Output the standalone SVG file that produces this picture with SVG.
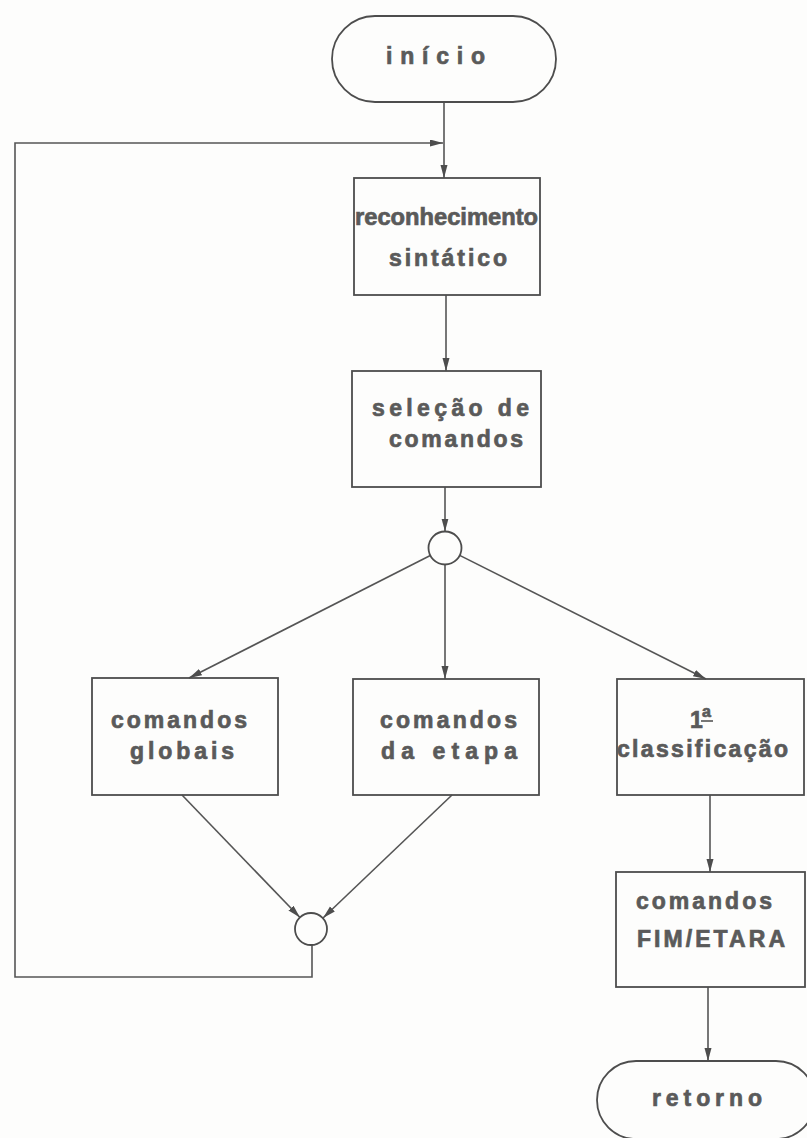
<svg xmlns="http://www.w3.org/2000/svg" width="807" height="1138" viewBox="0 0 807 1138">
  <style>
    .shape { fill: none; stroke: #4d4d4d; stroke-width: 1.8; }
    .wire { fill: none; stroke: #555; stroke-width: 1.6; }
    .lbl { font-family: "Liberation Sans", Arial, sans-serif; font-weight: bold; font-size: 23px; fill: #5a5a5a; stroke: #5a5a5a; stroke-width: 0.7; }
  </style>
  <defs>
    <marker id="arrow" markerUnits="userSpaceOnUse" markerWidth="14" markerHeight="8" refX="13" refY="3.5" orient="auto">
      <path d="M0,0 L13,3.5 L0,7 z" fill="#4d4d4d"/>
    </marker>
  </defs>
  <rect width="807" height="1138" fill="#fdfdfc"/>

  <!-- connectors -->
  <g id="connectors">
    <line class="wire" x1="444" y1="102" x2="444" y2="178" marker-end="url(#arrow)"/>
    <polyline class="wire" points="312,945 312,977 15,977 15,143 443,143" marker-end="url(#arrow)"/>
    <line class="wire" x1="446" y1="295" x2="446" y2="371" marker-end="url(#arrow)"/>
    <line class="wire" x1="445" y1="487" x2="445" y2="531.5" marker-end="url(#arrow)"/>
    <line class="wire" x1="430.3" y1="555.5" x2="189" y2="678" marker-end="url(#arrow)"/>
    <line class="wire" x1="445" y1="564.5" x2="445" y2="679" marker-end="url(#arrow)"/>
    <line class="wire" x1="459.7" y1="555.4" x2="706" y2="679" marker-end="url(#arrow)"/>
    <line class="wire" x1="710" y1="795" x2="710" y2="872" marker-end="url(#arrow)"/>
    <line class="wire" x1="708" y1="987" x2="708" y2="1061" marker-end="url(#arrow)"/>
    <line class="wire" x1="182" y1="795" x2="300" y2="917.5" marker-end="url(#arrow)"/>
    <line class="wire" x1="452" y1="795" x2="323" y2="918" marker-end="url(#arrow)"/>
  </g>

  <g id="inicio">
    <rect class="shape" x="332" y="16" width="224" height="86" rx="43"/>
    <text class="lbl" x="386" y="64" textLength="99" lengthAdjust="spacing">início</text>
  </g>

  <g id="reconhecimento">
    <rect class="shape" x="354" y="178" width="186" height="117"/>
    <text class="lbl" x="355" y="225" textLength="183" lengthAdjust="spacingAndGlyphs">reconhecimento</text>
    <text class="lbl" x="389" y="266" textLength="118" lengthAdjust="spacing">sintático</text>
  </g>

  <g id="selecao">
    <rect class="shape" x="352" y="371" width="189" height="116"/>
    <text class="lbl" x="372" y="416" textLength="157" lengthAdjust="spacing">seleção de</text>
    <text class="lbl" x="389" y="447" textLength="134" lengthAdjust="spacing">comandos</text>
  </g>

  <circle id="juncao-selecao" class="shape" cx="445" cy="548" r="16.5"/>

  <g id="globais">
    <rect class="shape" x="92" y="678" width="186" height="117"/>
    <text class="lbl" x="111" y="728" textLength="136" lengthAdjust="spacing">comandos</text>
    <text class="lbl" x="130" y="759" textLength="104" lengthAdjust="spacing">globais</text>
  </g>

  <g id="etapa">
    <rect class="shape" x="353" y="679" width="186" height="116"/>
    <text class="lbl" x="380" y="728" textLength="137" lengthAdjust="spacing">comandos</text>
    <text class="lbl" x="381" y="759" textLength="136" lengthAdjust="spacing">da etapa</text>
  </g>

  <g id="classificacao">
    <rect class="shape" x="617" y="679" width="187" height="116"/>
    <text class="lbl" x="690" y="728">1</text>
    <text class="lbl" x="702" y="717" style="font-size:16px">a</text>
    <line class="wire" x1="701" y1="721" x2="713" y2="721"/>
    <text class="lbl" x="617" y="757" textLength="171" lengthAdjust="spacing">classificação</text>
  </g>

  <g id="fim-etapa">
    <rect class="shape" x="616" y="872" width="189" height="115"/>
    <text class="lbl" x="636" y="909" textLength="136" lengthAdjust="spacing">comandos</text>
    <text class="lbl" x="637" y="947" textLength="148" lengthAdjust="spacing">FIM/ETARA</text>
  </g>

  <circle id="juncao-retorno" class="shape" cx="311" cy="929" r="16"/>

  <g id="retorno">
    <rect class="shape" x="597" y="1061" width="218" height="78" rx="39"/>
    <text class="lbl" x="652" y="1106" textLength="110" lengthAdjust="spacing">retorno</text>
  </g>
</svg>
